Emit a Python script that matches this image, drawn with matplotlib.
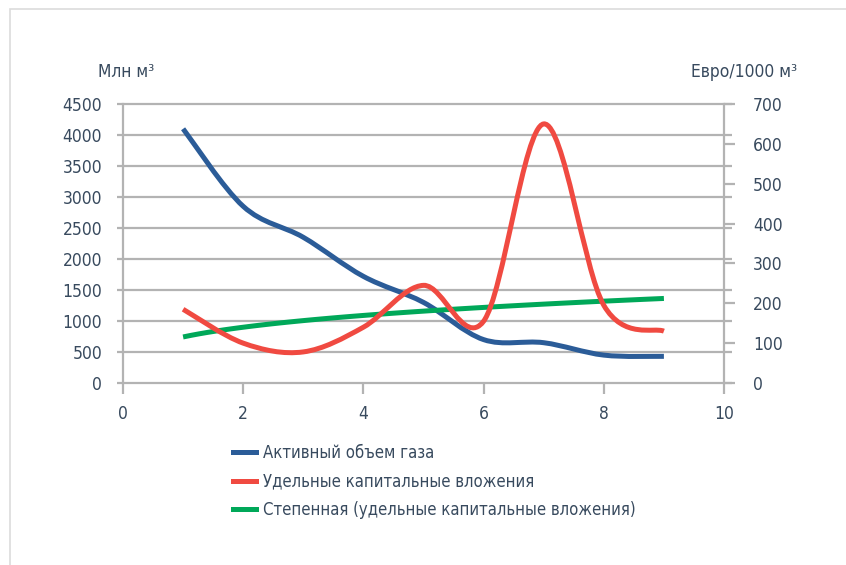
import numpy as np
import matplotlib
matplotlib.use("Agg")
import matplotlib.pyplot as plt
from matplotlib.path import Path
from matplotlib.patches import PathPatch, Rectangle
from matplotlib.lines import Line2D

plt.rcParams['font.family'] = ['DejaVu Sans']
plt.rcParams['font.stretch'] = 'condensed'

# Data
x_vals = [1, 2, 3, 4, 5, 6, 7, 8, 9]
gas_volume = [4100, 2850, 2350, 1720, 1300, 700, 650, 450, 430]     # млн м³
capex = [185, 100, 78, 140, 245, 155, 650, 195, 130]                # евро/1000 м³
series_labels = ["Активный объем газа",
                 "Удельные капитальные вложения",
                 "Степенная (удельные капитальные вложения)"]
left_label = "Млн м³"
right_label = "Евро/1000 м³"

BLUE = "#2b5c98"
RED = "#f04a41"
GREEN = "#00a859"
GRID = "#b3b3b3"
TEXT = "#384a5e"
LW = 3.6
FS = 12.5
LEG_FS = 12


def smooth_path(xs, ys):
    """Catmull-Rom style cubic Bezier path through the points."""
    pts = np.column_stack([xs, ys]).astype(float)
    n = len(pts)
    verts = [pts[0]]
    codes = [Path.MOVETO]
    for i in range(n - 1):
        p_prev = pts[i - 1] if i > 0 else pts[i]
        p0, p1 = pts[i], pts[i + 1]
        p_next = pts[i + 2] if i + 2 < n else pts[i + 1]
        c1 = p0 + (p1 - p_prev) / 6.0
        c2 = p1 - (p_next - p0) / 6.0
        verts += [c1, c2, p1]
        codes += [Path.CURVE4] * 3
    return Path(verts, codes)


fig = plt.figure(figsize=(8.46, 5.65), dpi=100)
fig.patches.append(Rectangle((10 / 846, -0.1), 1.2, 1.1 - 9 / 565,
                             transform=fig.transFigure, fill=False,
                             edgecolor="#dcdcdc", lw=1.2, zorder=0))

ax = fig.add_axes([123 / 846, 1 - 383 / 565, 601 / 846, 279 / 565])
ax2 = ax.twinx()

ax.set_xlim(0, 10)
ax.set_ylim(0, 4500)
ax2.set_ylim(0, 700)
ax.set_xticks(range(0, 11, 2))
ax.set_yticks(range(0, 4501, 500))
ax2.set_yticks(range(0, 701, 100))

# grid lines extend slightly beyond both spines
for yv in range(0, 4501, 500):
    ax.plot([-0.1, 10.13], [yv, yv], color=GRID, lw=1.6, clip_on=False,
            zorder=1, solid_capstyle="butt")

for a in (ax, ax2):
    for s in a.spines.values():
        s.set_visible(False)
ax.spines['left'].set_visible(True)
ax.spines['left'].set_color(GRID)
ax.spines['left'].set_linewidth(1.6)
ax2.spines['right'].set_visible(True)
ax2.spines['right'].set_color(GRID)
ax2.spines['right'].set_linewidth(1.6)

ax.tick_params(axis='y', length=0, pad=15, labelsize=FS, labelcolor=TEXT)
ax.tick_params(axis='x', length=8, width=1.6, color=GRID, pad=8,
               labelsize=FS, labelcolor=TEXT)
ax2.tick_params(axis='y', length=8, width=1.6, color=GRID, pad=13,
                labelsize=FS, labelcolor=TEXT)
ax.xaxis.set_ticks_position('bottom')

ax.add_patch(PathPatch(smooth_path(x_vals, gas_volume), fill=False,
                       edgecolor=BLUE, lw=LW, capstyle="butt", zorder=3))
ax2.add_patch(PathPatch(smooth_path(x_vals, capex), fill=False,
                        edgecolor=RED, lw=LW, capstyle="butt", zorder=3))

# power trendline fitted to the capex series
b, ln_a = np.polyfit(np.log(x_vals), np.log(capex), 1)
xt = np.linspace(x_vals[0], x_vals[-1], 60)
ax2.plot(xt, np.exp(ln_a) * xt ** b, color=GREEN, lw=LW,
         solid_capstyle="butt", zorder=2)

fig.text(98 / 846, 1 - 72 / 565, left_label, fontsize=FS, color=TEXT,
         va="center", ha="left")
fig.text(797 / 846, 1 - 72 / 565, right_label, fontsize=FS, color=TEXT,
         va="center", ha="right")

handles = [Line2D([], [], color=c, lw=LW) for c in (BLUE, RED, GREEN)]
leg = fig.legend(handles, series_labels, loc="upper left",
                 bbox_to_anchor=(218 / 846, 1 - 429 / 565), frameon=False,
                 fontsize=LEG_FS, handlelength=1.4, handletextpad=0.4,
                 labelspacing=0.62, labelcolor=TEXT)

fig.savefig("out.png", dpi=100, facecolor="white")
